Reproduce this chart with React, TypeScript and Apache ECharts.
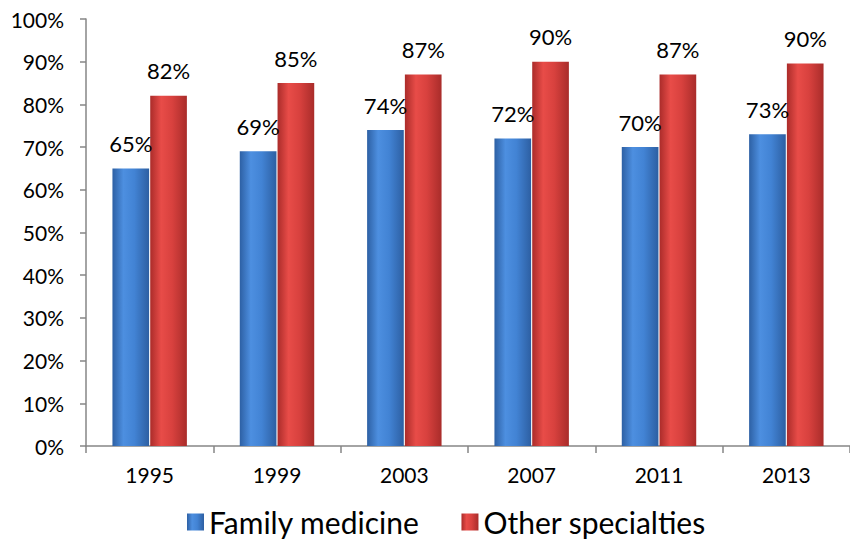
import React, { useEffect, useRef } from "react";
import * as echarts from "echarts";

const categories = ["1995", "1999", "2003", "2007", "2011", "2013"];
const familyMedicine = [65, 69, 74, 72, 70, 73];
const otherSpecialties = [82, 85, 87, 90, 87, 89.6];
const seriesNames = ["Family medicine", "Other specialties"];

const FONT = "Lato, 'Noto Sans', sans-serif";

const blueGrad = new echarts.graphic.LinearGradient(0, 0, 1, 0, [
  { offset: 0, color: "#2d60a4" },
  { offset: 0.3, color: "#4d8fe0" },
  { offset: 0.6, color: "#4283d4" },
  { offset: 1, color: "#2d5fa2" },
]);
const redGrad = new echarts.graphic.LinearGradient(0, 0, 1, 0, [
  { offset: 0, color: "#ab2c2a" },
  { offset: 0.3, color: "#e84c48" },
  { offset: 0.6, color: "#d8413e" },
  { offset: 1, color: "#a92c2a" },
]);

export default function App() {
  const ref = useRef<HTMLDivElement>(null);
  useEffect(() => {
    const chart = echarts.init(ref.current!, null, { renderer: "svg" });
    const label = {
      show: true,
      position: "top" as const,
      distance: 14,
      fontFamily: FONT,
      fontSize: 22,
      color: "#000",
      formatter: (p: any) => Math.round(p.value) + "%",
    };
    chart.setOption({
      animation: false,
      backgroundColor: "#fff",
      grid: { left: 86, right: -7, top: 19, bottom: 104 },
      legend: {
        bottom: 8,
        left: 182,
        itemWidth: 17,
        itemHeight: 17,
        itemGap: 42,
        icon: "rect",
        textStyle: { fontFamily: FONT, fontSize: 30, color: "#000" },
        data: seriesNames,
      },
      xAxis: {
        type: "category",
        data: categories,
        axisLine: { lineStyle: { color: "#868686", width: 1.5 } },
        axisTick: { show: true, length: 7, lineStyle: { color: "#868686", width: 1.5 } },
        axisLabel: { fontFamily: FONT, fontSize: 21, color: "#000", margin: 18 },
      },
      yAxis: {
        type: "value",
        min: 0,
        max: 100,
        interval: 10,
        splitLine: { show: false },
        axisLine: { show: true, lineStyle: { color: "#868686", width: 1.5 } },
        axisTick: { show: true, length: 6, lineStyle: { color: "#868686", width: 1.5 } },
        axisLabel: {
          fontFamily: FONT,
          fontSize: 21,
          color: "#000",
          margin: 22,
          formatter: (v: number) => v + "%",
        },
      },
      series: [
        {
          name: seriesNames[0],
          type: "bar",
          data: familyMedicine,
          barWidth: "28.8%",
          barGap: "3%",
          itemStyle: { color: blueGrad },
          label,
        },
        {
          name: seriesNames[1],
          type: "bar",
          data: otherSpecialties,
          barWidth: "28.8%",
          barGap: "3%",
          itemStyle: { color: redGrad },
          label,
        },
      ],
    });
    return () => chart.dispose();
  }, []);
  return <div ref={ref} style={{ width: 850, height: 550, position: "absolute", left: 0, top: 0 }} />;
}
